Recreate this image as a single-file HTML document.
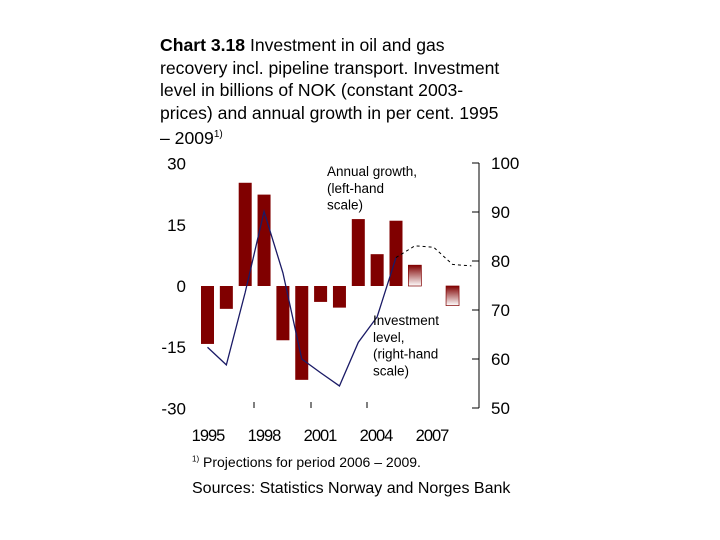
<!DOCTYPE html>
<html><head><meta charset="utf-8"><style>
body{margin:0;background:#fff;font-family:"Liberation Sans",Arial,sans-serif;}
#wrap{position:relative;width:720px;height:540px;overflow:hidden;}
.t{position:absolute;white-space:nowrap;color:#000;}
</style></head><body>
<div id="wrap">
<div class="t" style="left:160px;top:34px;font-size:17.6px;line-height:22.5px;">
<b>Chart 3.18</b> Investment in oil and gas<br>recovery incl. pipeline transport. Investment<br>level in billions of NOK (constant 2003-<br>prices) and annual growth in per cent. 1995<br>– 2009<sup style="font-size:10px">1)</sup></div>
<svg id="chart" width="720" height="540" style="position:absolute;left:0;top:0">
<defs><linearGradient id="g" x1="0" y1="0" x2="0" y2="1"><stop offset="0" stop-color="#800000"/><stop offset="1" stop-color="#ffffff"/></linearGradient></defs>
</svg>
<div class="t" style="left:192px;top:454px;font-size:14px;"><sup style="font-size:8px">1)</sup> Projections for period 2006 – 2009.</div>
<div class="t" style="left:192px;top:480px;font-size:16px;">Sources: Statistics Norway and Norges Bank</div>
</div>
<script>
const years=[1995,1996,1997,1998,1999,2000,2001,2002,2003,2004,2005,2006,2007,2008];
const growth=[-14.2,-5.6,25.3,22.4,-13.3,-23,-3.9,-5.3,16.4,7.8,16,5.1,0,-4.8];
const projected=[false,false,false,false,false,false,false,false,false,false,false,true,true,true];
const lvlYears=[1995,1996,1997,1998,1999,2000,2001,2002,2003,2004,2005];
const level=[62.4,58.8,73.6,90.1,77.6,60,57.2,54.5,63.4,68.6,80.7];
const projYears=[2005,2006,2007,2008,2009];
const projLevel=[80.7,83.1,82.8,79.3,79];
const leftTicks=[30,15,0,-15,-30];
const rightTicks=[100,90,80,70,60,50];
const xLabels=["1995","1998","2001","2004","2007"];
const NS="http://www.w3.org/2000/svg";
const svg=document.getElementById('chart');
const x=y=>207.5+(y-1995)*18.85;
const yL=v=>286-v*4.08;
const yR=v=>408-(v-50)*4.9;
function mk(t,a){const e=document.createElementNS(NS,t);for(const k in a)e.setAttribute(k,a[k]);svg.appendChild(e);return e;}
years.forEach((yr,i)=>{const v=growth[i];if(v===0)return;
 const y0=yL(Math.max(v,0)),h=Math.abs(yL(v)-yL(0));
 const r=mk('rect',{x:x(yr)-6.5,y:y0,width:13,height:h,fill:projected[i]?'url(#g)':'#800000',stroke:projected[i]?'#800000':'none','stroke-width':0.7});
 
 
});
const ln=mk('polyline',{points:lvlYears.map((y,i)=>x(y)+','+yR(level[i])).join(' '),fill:'none',stroke:'#1a1a66','stroke-width':1.3});


const pl=mk('polyline',{points:projYears.map((y,i)=>x(y)+','+yR(projLevel[i])).join(' '),fill:'none',stroke:'#000','stroke-width':1,'stroke-dasharray':'3,3'});


const ax=mk('line',{x1:479,y1:163,x2:479,y2:408,stroke:'#000','stroke-width':1});


leftTicks.forEach(v=>{const t=mk('text',{x:186,y:yL(v)+6,'text-anchor':'end','font-size':17,'font-family':'Liberation Sans'});t.textContent=v;
 
 });
rightTicks.forEach(v=>{const t=mk('text',{x:491,y:yR(v)+6,'font-size':17,'font-family':'Liberation Sans'});t.textContent=v;
 
 
 const k=mk('line',{x1:472,x2:479,y1:yR(v),y2:yR(v),stroke:'#000'});
 
 });
[254,311,367].forEach(px=>{const k=mk('line',{x1:px,x2:px,y1:402,y2:408,stroke:'#000'});
 
 });
xLabels.forEach((s,i)=>{const t=mk('text',{x:208+i*56,y:441,'text-anchor':'middle','font-size':16.5,'font-family':'Liberation Sans','letter-spacing':'-1'});t.textContent=s;
 
 });
function lbl(lines,x0,y0,name){lines.forEach((s,i)=>{const t=mk('text',{x:x0,y:y0+i*16.8,'font-size':13.5,'font-family':'Liberation Sans'});t.textContent=s;
 
 });}
lbl(['Annual growth,','(left-hand','scale)'],327,176,'growth-annotation');
lbl(['Investment','level,','(right-hand','scale)'],373,325,'level-annotation');
</script>
</body></html>
